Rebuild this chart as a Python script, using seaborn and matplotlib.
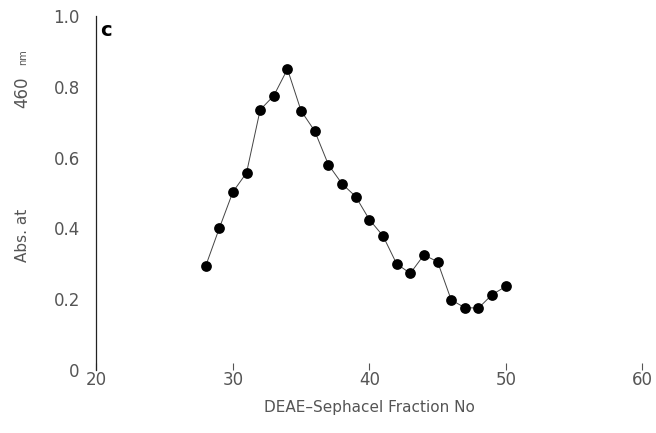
import matplotlib
matplotlib.use("Agg")
import matplotlib.pyplot as plt
import seaborn as sns
import pandas as pd

fraction = [28, 29, 30, 31, 32, 33, 34, 35, 36, 37, 38, 39, 40, 41, 42, 43, 44, 45, 46, 47, 48, 49, 50]
absorbance = [0.293, 0.400, 0.503, 0.557, 0.735, 0.775, 0.850, 0.732, 0.675, 0.580, 0.526, 0.490, 0.425, 0.379, 0.300, 0.273, 0.325, 0.306, 0.198, 0.176, 0.175, 0.213, 0.236]
xticks = [20, 30, 40, 50, 60]
yticks = [0, 0.2, 0.4, 0.6, 0.8, 1.0]
yticklabels = ["0", "0.2", "0.4", "0.6", "0.8", "1.0"]

df = pd.DataFrame({"fraction": fraction, "absorbance": absorbance})

sns.set_style("white")
plt.rcParams["font.family"] = ["DejaVu Sans"]

fig = plt.figure(figsize=(6.56, 4.33), dpi=100)
ax = fig.add_axes([0.147, 0.1455, 0.832, 0.8175])

sns.lineplot(data=df, x="fraction", y="absorbance", ax=ax, color="#444444",
             linewidth=0.7, zorder=2)
sns.scatterplot(data=df, x="fraction", y="absorbance", ax=ax, color="black",
                s=60, edgecolor="black", linewidth=0, zorder=3)

ax.set_xlim(20, 60)
ax.set_ylim(0, 1.0)
ax.set_xticks(xticks)
ax.set_xticklabels([str(t) for t in xticks])
ax.set_yticks(yticks)
ax.set_yticklabels(yticklabels)

for s in ["top", "right", "bottom"]:
    ax.spines[s].set_visible(False)
ax.spines["left"].set_color("#222222")
ax.spines["left"].set_linewidth(0.9)

ax.tick_params(axis="y", direction="inout", length=4, width=0.8, color="#333333",
               labelsize=12, labelcolor="#555555", pad=10)
ax.tick_params(axis="x", direction="in", length=5, width=0.8, color="#555555",
               labelsize=12, labelcolor="#555555", pad=1, bottom=True)

ax.set_xlabel("DEAE\u2013Sephacel Fraction No", fontsize=11, color="#555555", labelpad=8)
ax.set_ylabel("")

fig.text(0.034, 0.457, "Abs. at", rotation=90, fontsize=11, color="#555555",
         ha="center", va="center")
fig.text(0.034, 0.787, "460", rotation=90, fontsize=12, color="#555555",
         ha="center", va="center")
fig.text(0.036, 0.868, "nm", rotation=90, fontsize=7, color="#555555",
         ha="center", va="center")

ax.text(0.006, 0.985, "c", transform=ax.transAxes, fontsize=14, fontweight="bold",
        ha="left", va="top", color="black")

fig.savefig("out.png", dpi=100)
